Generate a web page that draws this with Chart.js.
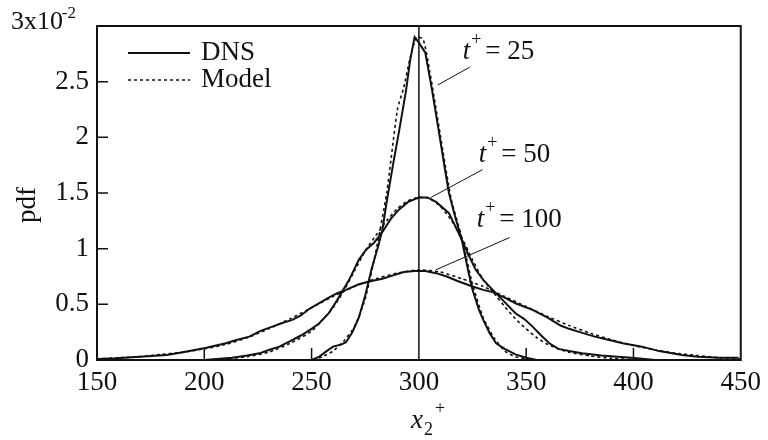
<!DOCTYPE html>
<html>
<head>
<meta charset="utf-8">
<script src="https://cdn.jsdelivr.net/npm/chart.js@4.4.1/dist/chart.umd.min.js"></script>
<style>
html,body{margin:0;padding:0;background:#fff;}
#wrap{width:768px;height:440px;}
</style>
</head>
<body>
<div id="wrap"><canvas id="c" width="768" height="440"></canvas></div>
<script>
// ---- data (pdf values in units of 1e-2) ----
const dns25X = [150,200,250,253.6,257,260,264,266,269,272,275,278,281,283,285,288,291,294,296,298,300,303,306,309,312,314,317,320,323,325,328,330,333,336,340,345,350,355,450];
const dns25Y = [0,0,0,0.03,0.08,0.12,0.14,0.16,0.25,0.38,0.58,0.82,1.02,1.17,1.42,1.76,2.08,2.42,2.7,2.9,2.85,2.76,2.44,2.09,1.73,1.5,1.28,1.08,0.8,0.63,0.45,0.36,0.24,0.15,0.1,0.05,0.02,0,0];

const mod25X = [150,200,250,255,260,265,270,275,280,285,290,293,296,299,302,305,310,315,320,325,330,335,340,345,350,355,450];
const mod25Y = [0,0,0,0.03,0.08,0.17,0.3,0.55,0.98,1.5,2.25,2.45,2.72,2.9,2.88,2.6,2.02,1.45,1.1,0.68,0.38,0.2,0.08,0.03,0.01,0,0];

const dns50X = [150,200,213,220,225.7,230,235,240,245,250,253.6,258,262,267.5,272,275.4,279,283,287,290.7,295,300,304,308,314,317,320,323,326.5,330,334.4,340,345,349,353,357,360.8,365,370,376,385,399,410,450];
const dns50Y = [0,0,0.02,0.04,0.06,0.09,0.12,0.17,0.22,0.28,0.33,0.42,0.54,0.72,0.9,0.99,1.05,1.15,1.27,1.35,1.42,1.46,1.46,1.42,1.32,1.2,1.08,0.95,0.81,0.72,0.63,0.52,0.42,0.37,0.3,0.22,0.15,0.1,0.08,0.06,0.04,0.02,0,0];

const mod50X = [150,200,210,220,230,240,250,260,265,270,275,280,285,290,295,300,305,310,315,320,325,330,335,340,345,350,355,360,365,370,380,390,400,410,450];
const mod50Y = [0,0,0.01,0.03,0.07,0.15,0.26,0.47,0.62,0.8,0.98,1.12,1.25,1.36,1.43,1.46,1.45,1.38,1.26,1.1,0.9,0.72,0.6,0.48,0.37,0.28,0.2,0.14,0.1,0.07,0.035,0.015,0.005,0,0];

const dns100X = [150,159,170,182.5,190,201,210,215,221,226,231.7,236,241,245,249,253.6,258,262,266,272,278,283,288,293,298,303,308,313,318,325,330,334.4,340,345,353,360,366,370,375,382,388.7,395,404,412,422.6,430,440,449];
const dns100Y = [0.01,0.015,0.03,0.045,0.07,0.11,0.15,0.18,0.21,0.26,0.3,0.33,0.36,0.4,0.46,0.51,0.56,0.6,0.63,0.68,0.71,0.73,0.76,0.79,0.8,0.8,0.78,0.75,0.71,0.66,0.63,0.61,0.56,0.51,0.45,0.38,0.31,0.28,0.25,0.21,0.18,0.15,0.12,0.08,0.045,0.03,0.02,0.02];

const mod100X = [150,160,170,180,190,200,210,220,230,240,250,260,270,280,290,300,310,320,330,340,350,360,370,380,390,400,410,420,430,440,450];
const mod100Y = [0.01,0.02,0.03,0.05,0.07,0.1,0.14,0.2,0.28,0.37,0.47,0.57,0.66,0.73,0.78,0.81,0.79,0.73,0.66,0.57,0.48,0.39,0.31,0.24,0.18,0.13,0.09,0.06,0.04,0.02,0.01];

const refLineX = [300,300];
const refLineY = [0,3];

const xTicks = [150,200,250,300,350,400,450];
const yTicks = [0,0.5,1,1.5,2,2.5];
const yTickLabels = ['0','0.5','1','1.5','2','2.5'];
const legendLabels = ['DNS','Model'];
const annotLabels = ['25','50','100'];
// annotation anchors in data units: [textX, textY, leaderFromX, leaderFromY, leaderToX, leaderToY]
const annot25 = [320.5,2.785,323.7,2.63,308.8,2.47];
const annot50 = [327.9,1.86,329.7,1.71,305.6,1.46];
const annot100 = [327,1.275,342.3,1.10,307.9,0.81];

const SERIF = '"Liberation Serif","Times New Roman",serif';
const FS = 27;

function pts(xs, ys){ return xs.map((x,i)=>({x:x, y:ys[i]})); }

const solid = {borderColor:'#111', borderWidth:2, pointRadius:0, showLine:true, tension:0, fill:false};
const dashed = {borderColor:'#111', borderWidth:1.6, pointRadius:0, showLine:true, tension:0.2, fill:false, borderDash:[3,3]};

const decor = {
  id:'decor',
  afterDraw(chart){
    const ctx = chart.ctx, a = chart.chartArea;
    const xs = chart.scales.x, ys = chart.scales.y;
    ctx.save();
    ctx.strokeStyle = '#111';
    ctx.fillStyle = '#111';
    // frame
    ctx.lineWidth = 2;
    ctx.strokeRect(a.left, a.top, a.right - a.left, a.bottom - a.top);
    // inward ticks
    ctx.lineWidth = 1.5;
    ctx.beginPath();
    yTicks.forEach(v=>{ if(v>0){ const y = ys.getPixelForValue(v); ctx.moveTo(a.left, y); ctx.lineTo(a.left+11, y);} });
    xTicks.forEach(v=>{ if(v>150 && v<450 && v!==300){ const x = xs.getPixelForValue(v); ctx.moveTo(x, a.bottom); ctx.lineTo(x, a.bottom-12);} });
    ctx.stroke();
    // top y label 3x10^-2
    ctx.textBaseline = 'middle';
    ctx.textAlign = 'right';
    const y3 = ys.getPixelForValue(3) - 4;
    ctx.font = '17px ' + SERIF;
    ctx.fillText('-2', 76, y3 - 8);
    ctx.font = '26px ' + SERIF;
    ctx.fillText('3x10', 63, y3);
    // y title
    ctx.save();
    ctx.translate(28, 205);
    ctx.rotate(-Math.PI/2);
    ctx.textAlign = 'center';
    ctx.textBaseline = 'middle';
    ctx.font = FS + 'px ' + SERIF;
    ctx.fillText('pdf', 0, 0);
    ctx.restore();
    // x title x2+
    ctx.textAlign = 'left';
    ctx.textBaseline = 'alphabetic';
    ctx.font = 'italic ' + FS + 'px ' + SERIF;
    const cx = xs.getPixelForValue(300);
    ctx.fillText('x', cx - 8, 428);
    ctx.font = '18px ' + SERIF;
    ctx.fillText('2', cx + 5, 435);
    ctx.fillText('+', cx + 16, 414);
    // legend
    const lx0 = a.left + 31, lx1 = a.left + 93;
    ctx.lineWidth = 2;
    ctx.setLineDash([]);
    ctx.beginPath(); ctx.moveTo(lx0, 53); ctx.lineTo(lx1, 53); ctx.stroke();
    ctx.lineWidth = 1.6;
    ctx.setLineDash([3,3]);
    ctx.beginPath(); ctx.moveTo(lx0, 80); ctx.lineTo(lx1, 80); ctx.stroke();
    ctx.setLineDash([]);
    ctx.font = FS + 'px ' + SERIF;
    ctx.textBaseline = 'middle';
    ctx.fillText(legendLabels[0], lx1 + 11, 53);
    ctx.fillText(legendLabels[1], lx1 + 11, 80);
    // annotations
    [[annot25, annotLabels[0]],[annot50, annotLabels[1]],[annot100, annotLabels[2]]].forEach(([an, lab])=>{
      const tx = xs.getPixelForValue(an[0]), ty = ys.getPixelForValue(an[1]);
      ctx.font = 'italic ' + FS + 'px ' + SERIF;
      ctx.textBaseline = 'middle';
      ctx.fillText('t', tx, ty + 2);
      const tw = ctx.measureText('t').width;
      ctx.font = '18px ' + SERIF;
      ctx.fillText('+', tx + tw + 1, ty - 10);
      ctx.font = FS + 'px ' + SERIF;
      ctx.fillText('= ' + lab, tx + tw + 15, ty + 2);
      ctx.lineWidth = 1;
      ctx.beginPath();
      ctx.moveTo(xs.getPixelForValue(an[2]), ys.getPixelForValue(an[3]));
      ctx.lineTo(xs.getPixelForValue(an[4]), ys.getPixelForValue(an[5]));
      ctx.stroke();
    });
    ctx.restore();
  }
};

new Chart(document.getElementById('c'), {
  type:'scatter',
  data:{
    datasets:[
      Object.assign({label:'ref', data:pts(refLineX, refLineY)}, solid, {borderWidth:1.5}),
      Object.assign({label:'DNS t+=25', data:pts(dns25X, dns25Y)}, solid),
      Object.assign({label:'Model t+=25', data:pts(mod25X, mod25Y)}, dashed),
      Object.assign({label:'DNS t+=50', data:pts(dns50X, dns50Y)}, solid),
      Object.assign({label:'Model t+=50', data:pts(mod50X, mod50Y)}, dashed),
      Object.assign({label:'DNS t+=100', data:pts(dns100X, dns100Y)}, solid),
      Object.assign({label:'Model t+=100', data:pts(mod100X, mod100Y)}, dashed)
    ]
  },
  options:{
    responsive:false,
    animation:false,
    devicePixelRatio:1,
    layout:{padding:{top:26,right:25,left:0,bottom:0}},
    plugins:{legend:{display:false}, tooltip:{enabled:false}},
    scales:{
      x:{
        type:'linear', min:150, max:450,
        afterFit(s){ s.height = 80; },
        afterBuildTicks(s){ s.ticks = xTicks.map(v=>({value:v})); },
        grid:{display:false, drawTicks:false},
        border:{display:false},
        ticks:{color:'#111', font:{family:SERIF, size:FS}, padding:7, maxRotation:0, autoSkip:false,
               callback:(v)=>String(v)}
      },
      y:{
        type:'linear', min:0, max:3,
        afterFit(s){ s.width = 97; },
        afterBuildTicks(s){ s.ticks = yTicks.map(v=>({value:v})); },
        grid:{display:false, drawTicks:false},
        border:{display:false},
        ticks:{color:'#111', font:{family:SERIF, size:FS}, padding:8, autoSkip:false,
               callback:(v)=>{ const i = yTicks.indexOf(v); return i>=0 ? yTickLabels[i] : ''; }}
      }
    }
  },
  plugins:[decor]
});
</script>
</body>
</html>
